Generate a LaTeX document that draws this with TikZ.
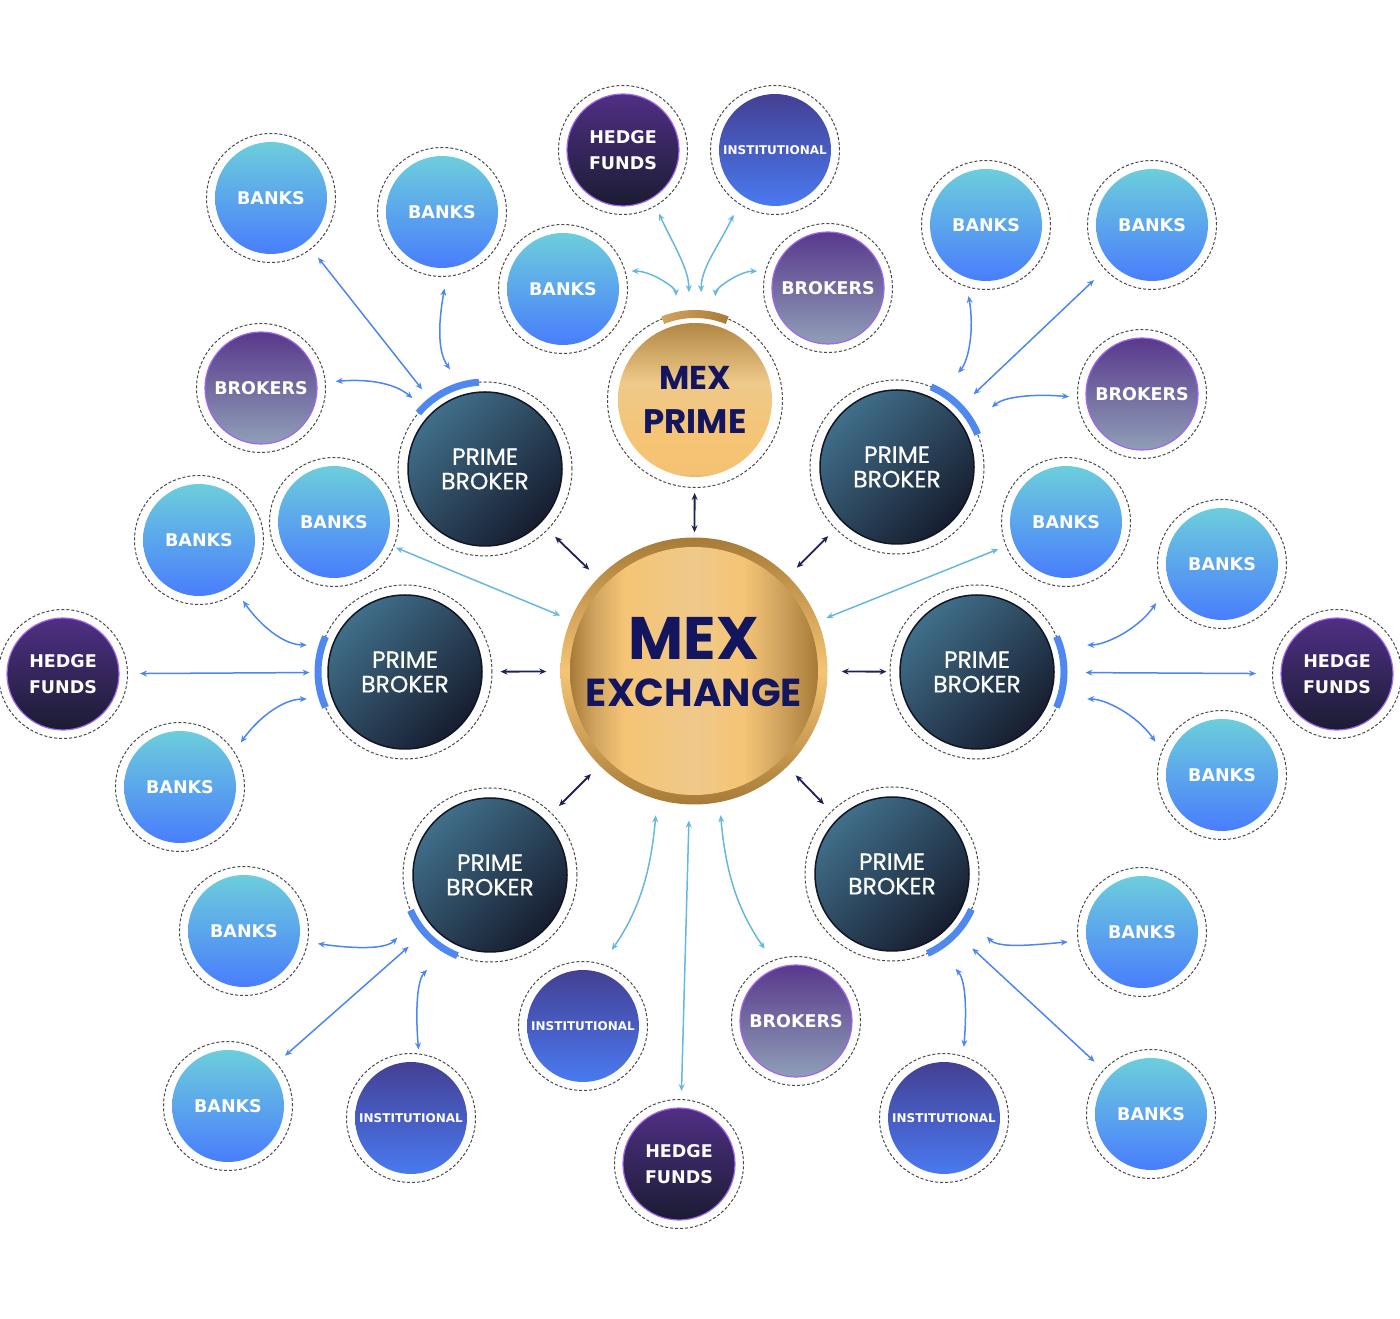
\documentclass[tikz,border=0pt]{standalone}
\usepackage{fontspec}
\usepackage{xcolor}
\usepackage{tikz}
\usetikzlibrary{arrows.meta}
\newfontfamily\satfont{DejaVu Sans}
\newfontfamily\geofont{Poppins}
\newfontfamily\pbfont{Poppins}[FakeBold=0.6]
\definecolor{ringgray}{HTML}{4A4A4A}
\definecolor{bankstop}{HTML}{6FD4D9}
\definecolor{bankbot}{HTML}{4677FF}
\definecolor{insttop}{HTML}{443B8C}
\definecolor{instbot}{HTML}{4A7EF8}
\definecolor{hedgetop}{HTML}{54308B}
\definecolor{hedgebot}{HTML}{161B2C}
\definecolor{brokertop}{HTML}{553189}
\definecolor{brokerbot}{HTML}{93A6BA}
\definecolor{rimpurple}{HTML}{A066EE}
\definecolor{pbtop}{HTML}{437490}
\definecolor{pbbot}{HTML}{141829}
\definecolor{pbedge}{HTML}{111524}
\definecolor{mexnavy}{HTML}{13155E}
\definecolor{navyline}{HTML}{1E2157}
\definecolor{skyline}{HTML}{67B7DE}
\definecolor{blueline}{HTML}{4C86EF}
\definecolor{arcblue}{HTML}{4F88EE}
\definecolor{golddk}{HTML}{A77B37}
\definecolor{goldlt}{HTML}{F5C475}
\definecolor{goldpale}{HTML}{EEC98A}
\definecolor{goldmd}{HTML}{D1A560}
\definecolor{goldbrown}{HTML}{B3863F}
\definecolor{goldorange}{HTML}{F4C273}
\pgfdeclarehorizontalshading{coingold}{100bp}{color(0bp)=(golddk); color(25bp)=(golddk); color(30bp)=(goldmd); color(36bp)=(goldlt); color(50bp)=(goldpale); color(60bp)=(goldlt); color(67bp)=(goldmd); color(75bp)=(golddk); color(100bp)=(golddk)}
\pgfdeclareverticalshading{ringgold}{100bp}{color(0bp)=(golddk); color(25bp)=(golddk); color(50bp)=(goldlt); color(75bp)=(golddk); color(100bp)=(golddk)}
\pgfdeclareverticalshading{primegold}{100bp}{color(0bp)=(goldbrown); color(25bp)=(goldbrown); color(29bp)=(goldorange); color(40bp)=(goldlt); color(55bp)=(goldpale); color(75bp)=(golddk); color(100bp)=(golddk)}
\tikzset{
    ring/.style={circle, draw=ringgray, line width=1pt, dash pattern=on 3pt off 2pt, inner sep=0pt, align=center},
    sat/.style n args={3}{ring, minimum size=129pt, text=white,
        font=\satfont\bfseries\fontsize{17.5}{26}\selectfont,
        path picture={\shadedraw[solid, top color=#1, bottom color=#2, #3] (path picture bounding box.center) circle (56pt);}},
    banks/.style={sat={bankstop}{bankbot}{draw=none}},
    inst/.style={sat={insttop}{instbot}{draw=none}, font=\satfont\bfseries\fontsize{12}{14}\selectfont},
    hedge/.style={sat={hedgetop}{hedgebot}{draw=rimpurple, line width=1.2pt}},
    brokers/.style={sat={brokertop}{brokerbot}{draw=rimpurple, line width=1.2pt}},
    pb/.style={ring, minimum size=174pt, text=white, font=\pbfont\fontsize{23.5}{24.5}\selectfont,
        path picture={\shadedraw[solid, top color=pbtop, bottom color=pbbot, shading angle=45, draw=pbedge, line width=1.5pt] (path picture bounding box.center) circle (77pt);}},
    mexprime/.style={ring, minimum size=175pt, text=mexnavy, font=\geofont\bfseries\fontsize{34}{44}\selectfont,
        path picture={\shade[shading=primegold] (path picture bounding box.center) circle (77pt);}},
    mexcoin/.style={circle, minimum size=267pt, inner sep=0pt, align=center, text=mexnavy, font=\geofont\bfseries\fontsize{39}{47}\selectfont,
        path picture={\shade[shading=ringgold] (path picture bounding box.center) circle (133.5pt);
            \shade[shading=coingold] (path picture bounding box.center) circle (124pt);}},
    link/.style={{Stealth[length=7pt,width=6pt]}-{Stealth[length=7pt,width=6pt]}, line width=1.5pt},
    navy-link/.style={link, draw=navyline, line width=1.8pt},
    sky-link/.style={link, draw=skyline},
    blue-link/.style={link, draw=blueline},
    pb-arc/.style={draw=arcblue, line width=7pt}
}
\begin{document}
\begin{tikzpicture}[x=1pt, y=1pt]
      \useasboundingbox (0,0) rectangle (1400,1318);

      \path
          (694,647) node[mexcoin] (mex) {{\fontsize{60}{47}\selectfont MEX}\\EXCHANGE\\[-29pt]\mbox{}}
          +(-360,149) node[banks] (mex-banks-l) {BANKS}
          +(372,149) node[banks] (mex-banks-r) {BANKS}
          +(-111,-355) node[inst] (mex-inst) {INSTITUTIONAL}
          +(-15,-493) node[hedge] (mex-hedge) {HEDGE\\FUNDS}
          +(102,-350) node[brokers] (mex-brokers) {BROKERS};

      \path
          (695,918) node[mexprime] (mex-prime) {{\fontsize{33}{44}\selectfont MEX}\\PRIME}
          +(-132,111) node[banks] (prime-banks) {BANKS}
          +(-72,250) node[hedge] (prime-hedge) {HEDGE\\FUNDS}
          +(80,250) node[inst] (prime-inst) {INSTITUTIONAL}
          +(133,112) node[brokers] (prime-brokers) {BROKERS};

      \path
          (485,849) node[pb] (pb-tl) {PRIME\\BROKER}
          +(-214,271) node[banks] (tl-banks-a) {BANKS}
          +(-43,257) node[banks] (tl-banks-b) {BANKS}
          +(-224,81) node[brokers] (tl-brokers) {BROKERS};

      \path
          (897,851) node[pb] (pb-tr) {PRIME\\BROKER}
          +(89,242) node[banks] (tr-banks-a) {BANKS}
          +(255,242) node[banks] (tr-banks-b) {BANKS}
          +(245,73) node[brokers] (tr-brokers) {BROKERS};

      \path
          (405,646) node[pb] (pb-l) {PRIME\\BROKER}
          +(-206,132) node[banks] (l-banks-a) {BANKS}
          +(-342,-2) node[hedge] (l-hedge) {HEDGE\\FUNDS}
          +(-225,-115) node[banks] (l-banks-b) {BANKS};

      \path
          (977,646) node[pb] (pb-r) {PRIME\\BROKER}
          +(245,108) node[banks] (r-banks-a) {BANKS}
          +(360,-2) node[hedge] (r-hedge) {HEDGE\\FUNDS}
          +(245,-103) node[banks] (r-banks-b) {BANKS};

      \path
          (490,443) node[pb] (pb-bl) {PRIME\\BROKER}
          +(-246,-56) node[banks] (bl-banks-a) {BANKS}
          +(-262,-231) node[banks] (bl-banks-b) {BANKS}
          +(-79,-243) node[inst] (bl-inst) {INSTITUTIONAL};

      \path
          (892,444) node[pb] (pb-br) {PRIME\\BROKER}
          +(250,-58) node[banks] (br-banks-a) {BANKS}
          +(259,-240) node[banks] (br-banks-b) {BANKS}
          +(52,-244) node[inst] (br-inst) {INSTITUTIONAL};

      \draw[pb-arc] ([shift={(94:87pt)}]pb-tl.center) arc[start angle=94, end angle=140, radius=87pt];
      \draw[pb-arc] ([shift={(22:87pt)}]pb-tr.center) arc[start angle=22, end angle=67, radius=87pt];
      \draw[pb-arc] ([shift={(156:87pt)}]pb-l.center) arc[start angle=156, end angle=204, radius=87pt];
      \draw[pb-arc] ([shift={(-24:87pt)}]pb-r.center) arc[start angle=-24, end angle=24, radius=87pt];
      \draw[pb-arc] ([shift={(204:87pt)}]pb-bl.center) arc[start angle=204, end angle=248, radius=87pt];
      \draw[pb-arc] ([shift={(294:87pt)}]pb-br.center) arc[start angle=294, end angle=336, radius=87pt];
      \shade[left color=goldmd, middle color=goldpale, right color=golddk]
          ([shift={(68:82pt)}]mex-prime.center) arc[start angle=68, end angle=112, radius=82pt]
          -- ([shift={(112:90pt)}]mex-prime.center) arc[start angle=112, end angle=68, radius=90pt] -- cycle;

      \draw[navy-link, shorten <=5, shorten >=5] (mex-prime) -- (mex);
      \draw[navy-link, shorten <=10, shorten >=12] (pb-tl) -- (mex);
      \draw[navy-link, shorten <=10, shorten >=12] (pb-tr) -- (mex);
      \draw[navy-link, shorten <=8, shorten >=14] (pb-l) -- (mex);
      \draw[navy-link, shorten <=3, shorten >=14] (pb-r) -- (mex);
      \draw[navy-link, shorten <=10, shorten >=12] (pb-bl) -- (mex);
      \draw[navy-link, shorten <=10, shorten >=12] (pb-br) -- (mex);

      \draw[sky-link, shorten <=6, shorten >=18] (prime-banks.16) to[out=0, in=92] (mex-prime.102);
      \draw[sky-link, shorten <=8, shorten >=20] (prime-hedge.-60) to[out=-65, in=90] (mex-prime.94);
      \draw[sky-link, shorten <=12, shorten >=20] (prime-inst.-124) to[out=-115, in=90] (mex-prime.86);
      \draw[sky-link, shorten <=8, shorten >=18] (prime-brokers.165) to[out=180, in=88] (mex-prime.77);

      \draw[sky-link, shorten <=2, shorten >=11] (mex-banks-l) -- (mex);
      \draw[sky-link, shorten <=8, shorten >=9] (mex-banks-r) -- (mex);
      \draw[sky-link, shorten <=16, shorten >=17] (mex.-106) to[out=-95, in=55] (mex-inst.73);
      \draw[sky-link, shorten <=16, shorten >=8] (mex.-92) -- (mex-hedge.88);
      \draw[sky-link, shorten <=13, shorten >=14] (mex.-79) to[out=-85, in=125] (mex-brokers.111);

      \draw[blue-link, shorten <=11, shorten >=14] (tl-banks-a) -- (pb-tl);
      \draw[blue-link, shorten <=12, shorten >=19] (tl-banks-b.-86) to[out=-100, in=125] (pb-tl.106);
      \draw[blue-link, shorten <=10, shorten >=14] (tl-brokers.5) to[out=5, in=140] (pb-tl.135);

      \draw[blue-link, shorten <=9, shorten >=25] (tr-banks-a.-107) to[out=-80, in=50] (pb-tr.59);
      \draw[blue-link, shorten <=15, shorten >=18] (tr-banks-b) -- (pb-tr);
      \draw[blue-link, shorten <=8, shorten >=25] (tr-brokers.183) to[out=175, in=40] (pb-tr.30);

      \draw[blue-link, shorten <=10, shorten >=15] (l-banks-a.-54) to[out=-55, in=180] (pb-l.162);
      \draw[blue-link, shorten <=12, shorten >=8] (l-hedge) -- (pb-l);
      \draw[blue-link, shorten <=11, shorten >=15] (l-banks-b.33) to[out=55, in=180] (pb-l.198);

      \draw[blue-link, shorten <=13, shorten >=27] (r-banks-a.-154) to[out=-125, in=0] (pb-r.18);
      \draw[blue-link, shorten <=16, shorten >=21] (r-hedge) -- (pb-r);
      \draw[blue-link, shorten <=11, shorten >=27] (r-banks-b.158) to[out=125, in=0] (pb-r.-18);

      \draw[blue-link, shorten <=10, shorten >=25] (bl-banks-a.-10) to[out=-8, in=225] (pb-bl.211);
      \draw[blue-link, shorten <=11, shorten >=21] (bl-banks-b) -- (pb-bl);
      \draw[blue-link, shorten <=4, shorten >=27] (bl-inst.83) to[out=95, in=225] (pb-bl.240);

      \draw[blue-link, shorten <=10, shorten >=27] (br-banks-a.188) to[out=185, in=-45] (pb-br.-30);
      \draw[blue-link, shorten <=12, shorten >=22] (br-banks-b) -- (pb-br);
      \draw[blue-link, shorten <=9, shorten >=27] (br-inst.73) to[out=85, in=-50] (pb-br.-58);
    \end{tikzpicture}
\end{document}
